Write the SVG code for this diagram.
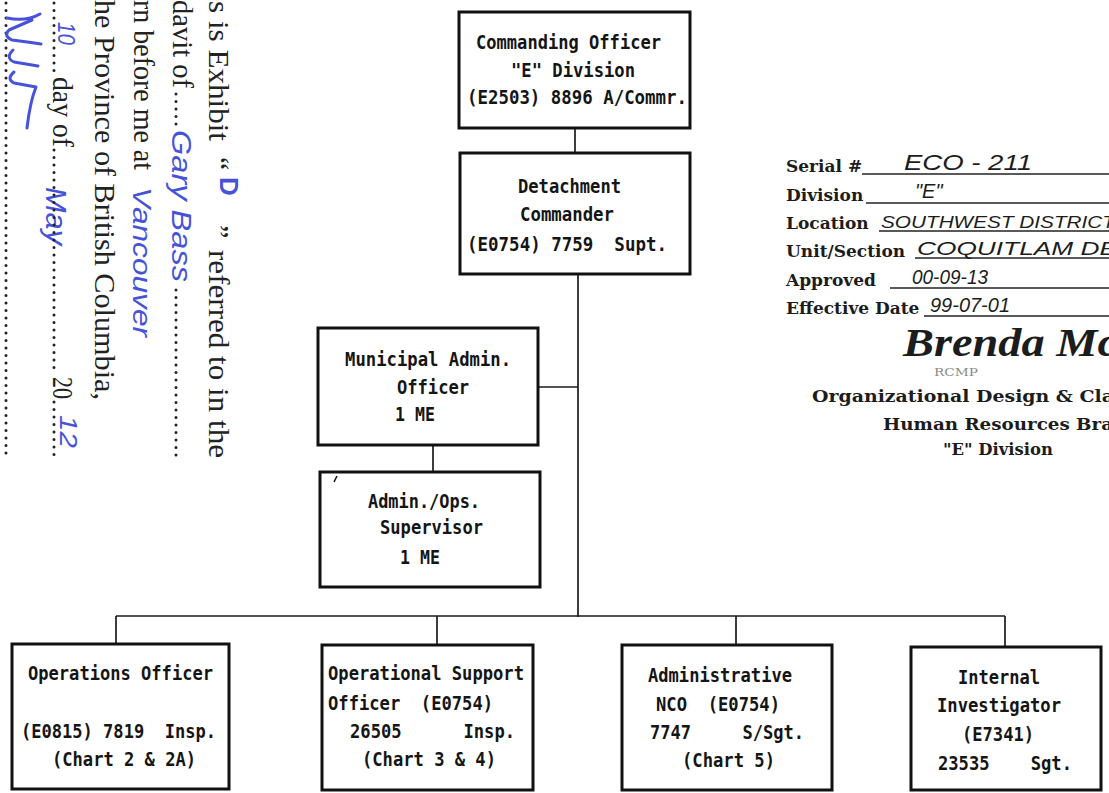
<svg xmlns="http://www.w3.org/2000/svg" width="1109" height="793" viewBox="0 0 1109 793" xml:space="preserve">
<style>
.box{fill:#fff;stroke:#111;stroke-width:3}
.con{stroke:#1a1a1a;stroke-width:1.7;fill:none}
.t{font-family:"DejaVu Sans Mono","Liberation Mono",monospace;font-weight:bold;font-size:20px;fill:#151515;white-space:pre}
.aff{font-family:"Liberation Serif",serif;font-size:30px;fill:#222}
.hand{font-family:"Liberation Sans",sans-serif;font-style:italic;fill:#4653d9}
.dots{stroke:#222;stroke-width:3;stroke-linecap:round;stroke-dasharray:0 7.5;fill:none}
.lab{font-family:"DejaVu Serif","Liberation Serif",serif;font-weight:bold;font-size:17px;fill:#1c1c1c}
.ink{font-family:"Liberation Sans",sans-serif;font-style:italic;fill:#1c1c1c}
.ul{stroke:#222;stroke-width:1.3}
</style>
<rect width="1109" height="793" fill="#fff"/>

<g id="affidavit">
<g transform="rotate(90)">
<text class="aff" x="1" y="-209" textLength="140" lengthAdjust="spacingAndGlyphs">s is Exhibit</text>
<text class="aff" x="157" y="-209">“</text>
<text class="hand" x="177" y="-220" style="font-size:26px;font-weight:bold;font-style:normal">D</text>
<text class="aff" x="225" y="-209">”</text>
<text class="aff" x="250" y="-209" textLength="208" lengthAdjust="spacingAndGlyphs">referred to in the</text>
<text class="aff" x="0" y="-173" textLength="88" lengthAdjust="spacingAndGlyphs">davit of</text>
<text class="hand" x="130" y="-172" font-size="28" textLength="152" lengthAdjust="spacingAndGlyphs">Gary Bass</text>
<text class="aff" x="0" y="-134" textLength="170" lengthAdjust="spacingAndGlyphs">rn before me at</text>
<text class="hand" x="187" y="-133" font-size="25" textLength="150" lengthAdjust="spacingAndGlyphs">Vancouver</text>
<text class="aff" x="0" y="-95" textLength="400" lengthAdjust="spacingAndGlyphs">he Province of British Columbia,</text>
<text class="hand" x="22" y="-58" font-size="23" textLength="23" lengthAdjust="spacingAndGlyphs">10</text>
<text class="aff" x="77" y="-53" textLength="70" lengthAdjust="spacingAndGlyphs">day of</text>
<text class="hand" x="187" y="-46" font-size="30" textLength="58" lengthAdjust="spacingAndGlyphs">May</text>
<text class="aff" x="377" y="-53" textLength="22" lengthAdjust="spacingAndGlyphs">20</text>
<text class="hand" x="415" y="-60" font-size="23" textLength="33" lengthAdjust="spacingAndGlyphs">12</text>
</g>
<line class="dots" x1="176" y1="94" x2="176" y2="128"/>
<line class="dots" x1="176" y1="290" x2="176" y2="460"/>
<line class="dots" x1="54" y1="3" x2="54" y2="76"/>
<line class="dots" x1="54" y1="150" x2="54" y2="375"/>
<line class="dots" x1="54" y1="402" x2="54" y2="460"/>
<line class="dots" x1="6" y1="3" x2="6" y2="460"/>
<path d="M40 14 Q 26 22 7 18 M 32 20 Q 16 27 9 30 Q 3 36 12 40 Q 28 42 41 44 M 13 50 Q 5 58 14 62 L 38 66 M 14 72 Q 6 79 14 83 L 36 87 Q 30 102 27 128" fill="none" stroke="#4653d9" stroke-width="3" stroke-linecap="round" stroke-linejoin="round"/>
</g>

<g id="stamp">
<text class="lab" x="786" y="172">Serial #</text>
<line class="ul" x1="862" y1="174" x2="1109" y2="174"/>
<text class="ink" x="904" y="170" font-size="22" textLength="128" lengthAdjust="spacingAndGlyphs">ECO - 211</text>
<text class="lab" x="786" y="201">Division</text>
<line class="ul" x1="866" y1="203" x2="1109" y2="203"/>
<text class="ink" x="915" y="198" font-size="20">"E"</text>
<text class="lab" x="786" y="229">Location</text>
<text class="ink" x="881" y="228" font-size="16" textLength="234" lengthAdjust="spacingAndGlyphs">SOUTHWEST DISTRICT</text>
<line class="ul" x1="879" y1="231" x2="1109" y2="231"/>
<text class="lab" x="786" y="257">Unit/Section</text>
<text class="ink" x="917" y="255" font-size="19" textLength="200" lengthAdjust="spacingAndGlyphs">COQUITLAM DE</text>
<line class="ul" x1="915" y1="258" x2="1109" y2="258"/>
<text class="lab" x="786" y="286">Approved</text>
<line class="ul" x1="890" y1="288" x2="1109" y2="288"/>
<text class="ink" x="912" y="284" font-size="20" textLength="76" lengthAdjust="spacingAndGlyphs">00-09-13</text>
<text class="lab" x="786" y="314">Effective Date</text>
<line class="ul" x1="924" y1="316" x2="1109" y2="316"/>
<text class="ink" x="930" y="312" font-size="20" textLength="80" lengthAdjust="spacingAndGlyphs">99-07-01</text>
<text x="903" y="356" font-family="Liberation Serif,serif" font-style="italic" font-weight="bold" font-size="40" fill="#1c1c1c" textLength="215" lengthAdjust="spacingAndGlyphs">Brenda Mc</text>
<text x="934" y="376" font-family="DejaVu Serif,serif" font-size="11" fill="#8a8a8a" textLength="44" lengthAdjust="spacingAndGlyphs">RCMP</text>
<text class="lab" x="812" y="402" fill="#2a2a2a" textLength="302" lengthAdjust="spacingAndGlyphs">Organizational Design &amp; Cla</text>
<text class="lab" x="883" y="430" fill="#2a2a2a" textLength="230" lengthAdjust="spacingAndGlyphs">Human Resources Bra</text>
<text class="lab" x="943" y="455" fill="#2a2a2a" textLength="110" lengthAdjust="spacingAndGlyphs">"E" Division</text>
</g>

<g id="connectors">
<line class="con" x1="575" y1="128" x2="575" y2="153"/>
<line class="con" x1="578" y1="274" x2="578" y2="617"/>
<line class="con" x1="538" y1="387" x2="578" y2="387"/>
<line class="con" x1="433" y1="445" x2="433" y2="472"/>
<line class="con" x1="116" y1="616" x2="1005" y2="616"/>
<line class="con" x1="116" y1="616" x2="116" y2="644"/>
<line class="con" x1="437" y1="616" x2="437" y2="645"/>
<line class="con" x1="736" y1="616" x2="736" y2="645"/>
<line class="con" x1="1005" y1="616" x2="1005" y2="647"/>
</g>

<g id="commanding-officer">
<rect class="box" x="459" y="12" width="231" height="116"/>
<text class="t" x="476" y="49" textLength="185" lengthAdjust="spacingAndGlyphs">Commanding Officer</text>
<text class="t" x="511" y="77" textLength="124" lengthAdjust="spacingAndGlyphs">"E" Division</text>
<text class="t" x="467" y="104" textLength="220" lengthAdjust="spacingAndGlyphs">(E2503) 8896 A/Commr.</text>
</g>

<g id="detachment-commander">
<rect class="box" x="460" y="153" width="230" height="121"/>
<text class="t" x="518" y="193" textLength="103" lengthAdjust="spacingAndGlyphs">Detachment</text>
<text class="t" x="520" y="221" textLength="94" lengthAdjust="spacingAndGlyphs">Commander</text>
<text class="t" x="467" y="251" textLength="200" lengthAdjust="spacingAndGlyphs">(E0754) 7759  Supt.</text>
</g>

<g id="municipal-admin-officer">
<rect class="box" x="318" y="328" width="220" height="117"/>
<text class="t" x="345" y="366" textLength="166" lengthAdjust="spacingAndGlyphs">Municipal Admin.</text>
<text class="t" x="397" y="394" textLength="72" lengthAdjust="spacingAndGlyphs">Officer</text>
<text class="t" x="395" y="421" textLength="40" lengthAdjust="spacingAndGlyphs">1 ME</text>
</g>

<g id="admin-ops-supervisor">
<rect class="box" x="320" y="472" width="220" height="115"/>
<line x1="334" y1="482" x2="337" y2="476" stroke="#111" stroke-width="1.5"/>
<text class="t" x="368" y="508" textLength="112" lengthAdjust="spacingAndGlyphs">Admin./Ops.</text>
<text class="t" x="380" y="534" textLength="103" lengthAdjust="spacingAndGlyphs">Supervisor</text>
<text class="t" x="400" y="564" textLength="40" lengthAdjust="spacingAndGlyphs">1 ME</text>
</g>

<g id="operations-officer">
<rect class="box" x="12" y="644" width="217" height="145"/>
<text class="t" x="28" y="680" textLength="185" lengthAdjust="spacingAndGlyphs">Operations Officer</text>
<text class="t" x="21" y="738" textLength="195" lengthAdjust="spacingAndGlyphs">(E0815) 7819  Insp.</text>
<text class="t" x="52" y="766" textLength="144" lengthAdjust="spacingAndGlyphs">(Chart 2 &amp; 2A)</text>
</g>

<g id="operational-support-officer">
<rect class="box" x="322" y="645" width="211" height="145"/>
<text class="t" x="328" y="680" textLength="196" lengthAdjust="spacingAndGlyphs">Operational Support</text>
<text class="t" x="328" y="710" textLength="165" lengthAdjust="spacingAndGlyphs">Officer  (E0754)</text>
<text class="t" x="350" y="738" textLength="165" lengthAdjust="spacingAndGlyphs">26505      Insp.</text>
<text class="t" x="362" y="766" textLength="134" lengthAdjust="spacingAndGlyphs">(Chart 3 &amp; 4)</text>
</g>

<g id="administrative-nco">
<rect class="box" x="622" y="645" width="210" height="145"/>
<text class="t" x="648" y="682" textLength="144" lengthAdjust="spacingAndGlyphs">Administrative</text>
<text class="t" x="656" y="711" textLength="124" lengthAdjust="spacingAndGlyphs">NCO  (E0754)</text>
<text class="t" x="650" y="739" textLength="154" lengthAdjust="spacingAndGlyphs">7747     S/Sgt.</text>
<text class="t" x="682" y="767" textLength="93" lengthAdjust="spacingAndGlyphs">(Chart 5)</text>
</g>

<g id="internal-investigator">
<rect class="box" x="911" y="647" width="190" height="143"/>
<text class="t" x="958" y="684" textLength="82" lengthAdjust="spacingAndGlyphs">Internal</text>
<text class="t" x="937" y="712" textLength="124" lengthAdjust="spacingAndGlyphs">Investigator</text>
<text class="t" x="962" y="741" textLength="72" lengthAdjust="spacingAndGlyphs">(E7341)</text>
<text class="t" x="938" y="770" textLength="134" lengthAdjust="spacingAndGlyphs">23535    Sgt.</text>
</g>
</svg>
